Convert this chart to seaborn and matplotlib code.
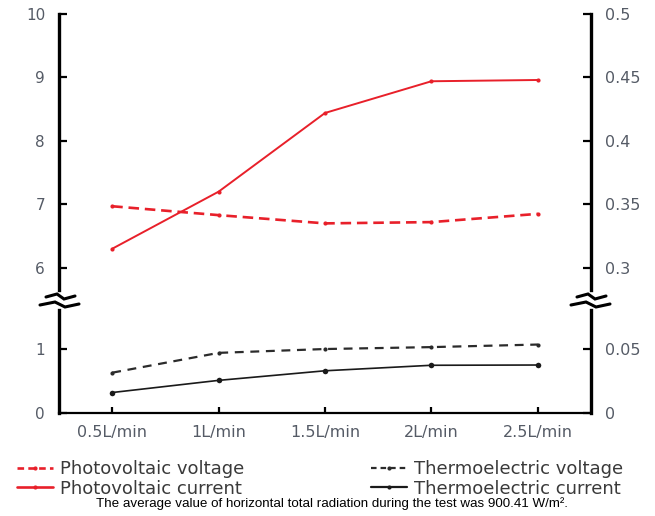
import numpy as np
import pandas as pd
import matplotlib
matplotlib.use("Agg")
import matplotlib.pyplot as plt
import seaborn as sns
from matplotlib.lines import Line2D

# ==========================================
# data (voltages in V on left axis, currents in A on right axis)
# ==========================================
flow_rates = ["0.5L/min", "1L/min", "1.5L/min", "2L/min", "2.5L/min"]
pv_voltage = [6.97, 6.83, 6.70, 6.72, 6.85]
pv_current = [0.315, 0.360, 0.422, 0.447, 0.448]
te_voltage = [0.63, 0.94, 1.00, 1.03, 1.07]
te_current = [0.016, 0.0255, 0.033, 0.0373, 0.0375]

left_top_ticks = [6, 7, 8, 9, 10]
left_bot_ticks = [0, 1]
right_top_ticks = [0.3, 0.35, 0.4, 0.45, 0.5]
right_bot_ticks = [0, 0.05]
right_top_labels = ["0.3", "0.35", "0.4", "0.45", "0.5"]
right_bot_labels = ["0", "0.05"]

series_labels = ["Photovoltaic voltage", "Photovoltaic current",
                 "Thermoelectric voltage", "Thermoelectric current"]
caption = "The average value of horizontal total radiation during the test was 900.41 W/m\u00b2."

RED = "#e8202a"
BLACK = "#1a1a1a"
TICK_C = "#555b66"
SCALE = 20.0  # right axis = left axis / 20

W, H = 655, 516
sns.set_style("white")
plt.rcParams["font.family"] = ["DejaVu Sans"]

df = pd.DataFrame({
    "pos": np.arange(len(flow_rates)),
    "flow": flow_rates,
    "pv_v": pv_voltage, "pv_i": pv_current,
    "te_v": te_voltage, "te_i": te_current,
})

fig = plt.figure(figsize=(W / 100, H / 100), dpi=100)

def rect(x0, y0, x1, y1):
    return [x0 / W, 1 - y1 / H, (x1 - x0) / W, (y1 - y0) / H]

ax_top = fig.add_axes(rect(59, 14, 591, 290))
ax_bot = fig.add_axes(rect(59, 310, 591, 413), sharex=ax_top)
ax_top_r = ax_top.twinx()
ax_bot_r = ax_bot.twinx()

top_lim = (5.65, 10.0)
bot_lim = (0.0, 1.61)
ax_top.set_ylim(top_lim)
ax_bot.set_ylim(bot_lim)
ax_top_r.set_ylim(top_lim[0] / SCALE, top_lim[1] / SCALE)
ax_bot_r.set_ylim(bot_lim[0] / SCALE, bot_lim[1] / SCALE)
ax_top.set_xlim(-0.5, len(flow_rates) - 0.5)

# series
sns.lineplot(data=df, x="pos", y="pv_v", ax=ax_top, color=RED, lw=1.9,
             marker="o", markersize=3, markeredgewidth=0, linestyle="--")
ax_top.lines[-1].set_dashes([4, 2.2])
sns.lineplot(data=df, x="pos", y="pv_i", ax=ax_top_r, color=RED, lw=1.4,
             marker="o", markersize=3, markeredgewidth=0)
sns.lineplot(data=df, x="pos", y="te_v", ax=ax_bot, color="#2b2b2b", lw=1.6,
             marker="o", markersize=3, markeredgewidth=0, linestyle="--")
ax_bot.lines[-1].set_dashes([4, 3])
sns.lineplot(data=df, x="pos", y="te_i", ax=ax_bot_r, color=BLACK, lw=1.2,
             marker="o", markersize=4, markeredgewidth=0)

# spines / ticks
for ax in (ax_top, ax_bot, ax_top_r, ax_bot_r):
    ax.set_xlabel("")
    ax.set_ylabel("")
    for s in ax.spines.values():
        s.set_visible(False)
        s.set_color("black")

ax_top.spines["left"].set_visible(True)
ax_top.spines["left"].set_linewidth(2.4)
ax_bot.spines["left"].set_visible(True)
ax_bot.spines["left"].set_linewidth(2.4)
ax_bot.spines["bottom"].set_visible(True)
ax_bot.spines["bottom"].set_linewidth(1.6)
ax_top_r.spines["right"].set_visible(True)
ax_top_r.spines["right"].set_linewidth(2.4)
ax_bot_r.spines["right"].set_visible(True)
ax_bot_r.spines["right"].set_linewidth(2.4)

ax_top.set_yticks(left_top_ticks)
ax_bot.set_yticks(left_bot_ticks)
ax_top_r.set_yticks(right_top_ticks)
ax_top_r.set_yticklabels(right_top_labels)
ax_bot_r.set_yticks(right_bot_ticks)
ax_bot_r.set_yticklabels(right_bot_labels)

for ax in (ax_top, ax_bot):
    ax.tick_params(axis="y", direction="in", length=6, width=1.6, color="black",
                   pad=10, labelsize=11, labelcolor=TICK_C, left=True)
for ax in (ax_top_r, ax_bot_r):
    ax.tick_params(axis="y", direction="in", length=6, width=1.6, color="black",
                   pad=10, labelsize=11.5, labelcolor=TICK_C, right=True)

ax_top.tick_params(axis="x", bottom=False, labelbottom=False)
ax_top_r.tick_params(axis="x", bottom=False, labelbottom=False)
ax_bot.set_xticks(df["pos"])
ax_bot.set_xticklabels(flow_rates)
ax_bot.tick_params(axis="x", direction="in", length=4, width=1.6, color="black",
                   pad=9, labelsize=11.5, labelcolor=TICK_C, bottom=True)

# axis break marks
def break_mark(xc, yc):
    for dy, xs, ys in [(-3, [-14, -3, 4, 15], [0, -3, 2, -1]),
                       (5, [-20, -5, 5, 19], [0, -3, 2, -1])]:
        px = [(xc + x) / W for x in xs]
        py = [1 - (yc + dy + y) / H for y in ys]
        fig.add_artist(Line2D(px, py, transform=fig.transFigure, color="black",
                              lw=2.2, solid_joinstyle="miter"))

break_mark(60, 300)
break_mark(591, 300)

# legend
handles = [
    Line2D([], [], color=RED, lw=1.9, ls=(0, (2.5, 1.6)), marker="o", markersize=3, markeredgewidth=0),
    Line2D([], [], color=RED, lw=1.9, marker="o", markersize=3, markeredgewidth=0),
    Line2D([], [], color="#2b2b2b", lw=1.6, ls=(0, (2.5, 1.8)), marker="o", markersize=3, markeredgewidth=0),
    Line2D([], [], color=BLACK, lw=1.6, marker="o", markersize=3, markeredgewidth=0),
]
leg = fig.legend(handles, series_labels, ncol=2, loc="upper left",
                 bbox_to_anchor=(17 / W, 1 - 460 / H), frameon=False,
                 fontsize=13, handlelength=2.0, handletextpad=0.4,
                 columnspacing=7.0, labelspacing=0.1, borderpad=0,
                 borderaxespad=0, markerscale=1)
for t in leg.get_texts():
    t.set_color("#3a3a3a")

fig.text(332 / W, 1 - 504 / H, caption, ha="center", va="center",
         fontsize=9.6, family=["Liberation Sans", "DejaVu Sans"], color="black")

fig.savefig("out.png", dpi=100)
